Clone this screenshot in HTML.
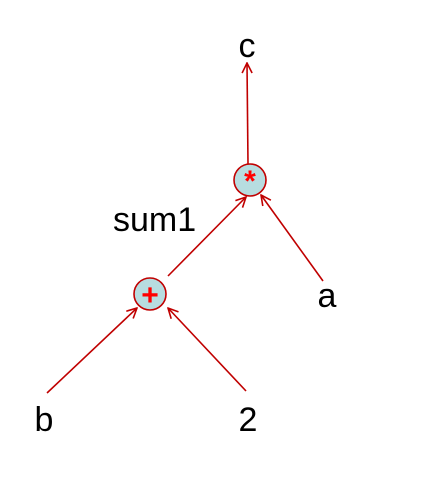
<!DOCTYPE html>
<html><head><meta charset="utf-8"><style>body{margin:0;background:#fff}svg{display:block}text{font-family:"Liberation Sans",sans-serif}</style></head><body>
<svg width="442" height="481">
<defs><marker id="ar" viewBox="0 0 12 12" refX="11" refY="6" markerWidth="12" markerHeight="12" markerUnits="userSpaceOnUse" orient="auto"><path d="M1,1 L11,6 L1,11" fill="none" stroke="#c00000" stroke-width="1.6"/></marker></defs>
<g stroke="#c00000" stroke-width="1.6" fill="none">
<line x1="248" y1="164" x2="247" y2="63" marker-end="url(#ar)"/>
<line x1="168" y1="276" x2="246" y2="197" marker-end="url(#ar)"/>
<line x1="323" y1="281" x2="261" y2="195" marker-end="url(#ar)"/>
<line x1="47" y1="393" x2="137" y2="308" marker-end="url(#ar)"/>
<line x1="246" y1="391" x2="168" y2="308" marker-end="url(#ar)"/>
</g>
<circle cx="250" cy="180" r="16" fill="#b7dde0" stroke="#c00000" stroke-width="1.6"/>
<text x="250" y="191" font-size="30" fill="#ff0000" text-anchor="middle" font-weight="bold">*</text>
<circle cx="150" cy="294" r="16" fill="#b7dde0" stroke="#c00000" stroke-width="1.6"/>
<text x="150" y="305" font-size="30" fill="#ff0000" text-anchor="middle" font-weight="bold">+</text>
<g font-size="34" fill="#000">
<text x="247" y="57" text-anchor="middle">c</text>
<text x="113" y="231">sum1</text>
<text x="327" y="307" text-anchor="middle">a</text>
<text x="44" y="431" text-anchor="middle">b</text>
<text x="248" y="431" text-anchor="middle">2</text>
</g>
</svg>
</body></html>
